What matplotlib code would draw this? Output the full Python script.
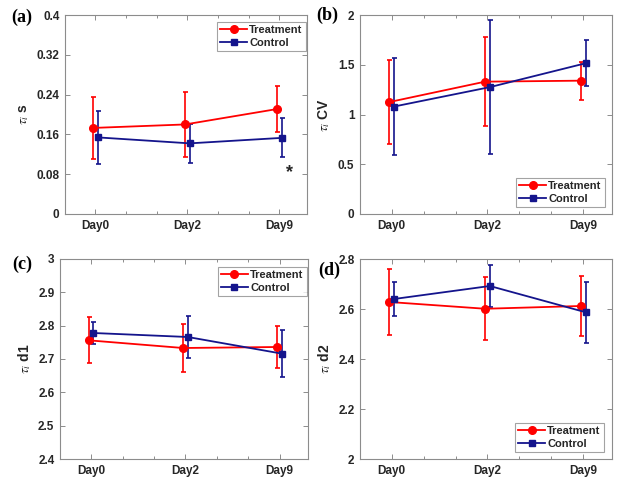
import numpy as np
import matplotlib
matplotlib.use('Agg')
import matplotlib.pyplot as plt
from matplotlib.lines import Line2D

plt.rcParams['font.family'] = ['Liberation Sans', 'DejaVu Sans']
plt.rcParams['mathtext.fontset'] = 'stix'

# Data
days = ['Day0', 'Day2', 'Day9']

tau_s_treat = [0.173, 0.180, 0.211]
tau_s_treat_err = [0.063, 0.066, 0.046]
tau_s_ctrl = [0.154, 0.142, 0.153]
tau_s_ctrl_err = [0.054, 0.039, 0.039]

cv_treat = [1.125, 1.33, 1.34]
cv_treat_err = [0.42, 0.45, 0.19]
cv_ctrl = [1.08, 1.275, 1.515]
cv_ctrl_err = [0.49, 0.67, 0.23]

d1_treat = [2.756, 2.733, 2.736]
d1_treat_err = [0.069, 0.072, 0.063]
d1_ctrl = [2.778, 2.766, 2.716]
d1_ctrl_err = [0.033, 0.064, 0.070]

d2_treat = [2.628, 2.601, 2.612]
d2_treat_err = [0.134, 0.126, 0.121]
d2_ctrl = [2.640, 2.692, 2.587]
d2_ctrl_err = [0.068, 0.086, 0.123]

red = '#ff0000'
navy = '#14148c'
axis_gray = '#8c8c8c'
text_col = '#262626'

fig = plt.figure(figsize=(6.24, 4.88), dpi=100)

W, H = 624, 488


def rect(l, r, t, b):
    return [l / W, (H - b) / H, (r - l) / W, (b - t) / H]


panels = [
    dict(pos=rect(65, 307, 15, 214), tr=tau_s_treat, tre=tau_s_treat_err, ct=tau_s_ctrl, cte=tau_s_ctrl_err,
         ylim=(0, 0.4), yticks=[0, 0.08, 0.16, 0.24, 0.32, 0.4], ylab=['0', '0.08', '0.16', '0.24', '0.32', '0.4'],
         ylabel=r'$\tau_i$ s', tag='(a)', tagxy=(22, 17), leg=('upper right', (0.995, 0.965))),
    dict(pos=rect(360, 612, 15, 214), tr=cv_treat, tre=cv_treat_err, ct=cv_ctrl, cte=cv_ctrl_err,
         ylim=(0, 2), yticks=[0, 0.5, 1, 1.5, 2], ylab=['0', '0.5', '1', '1.5', '2'],
         ylabel=r'$\tau_i$ CV', tag='(b)', tagxy=(327, 15), leg=('lower right', (0.972, 0.035))),
    dict(pos=rect(60, 308, 259, 459), tr=d1_treat, tre=d1_treat_err, ct=d1_ctrl, cte=d1_ctrl_err,
         ylim=(2.4, 3), yticks=[2.4, 2.5, 2.6, 2.7, 2.8, 2.9, 3], ylab=['2.4', '2.5', '2.6', '2.7', '2.8', '2.9', '3'],
         ylabel=r'$\tau_i$ d1', tag='(c)', tagxy=(22, 264), leg=('upper right', (0.995, 0.96))),
    dict(pos=rect(360, 612, 259, 459), tr=d2_treat, tre=d2_treat_err, ct=d2_ctrl, cte=d2_ctrl_err,
         ylim=(2, 2.8), yticks=[2, 2.2, 2.4, 2.6, 2.8], ylab=['2', '2.2', '2.4', '2.6', '2.8'],
         ylabel=r'$\tau_i$ d2', tag='(d)', tagxy=(329, 270), leg=('lower right', (0.968, 0.035))),
]

x = np.arange(1, len(days) + 1)

handles = [Line2D([], [], color=red, marker='o', ms=5.5, lw=1.3, label='Treatment'),
           Line2D([], [], color=navy, marker='s', ms=4.8, lw=1.3, label='Control')]

for p in panels:
    ax = fig.add_axes(p['pos'])
    ax.errorbar(x - 0.025, p['tr'], yerr=p['tre'], color=red, marker='o', ms=5.5, lw=1.3,
                elinewidth=1.2, capsize=1.8, capthick=1.2)
    ax.errorbar(x + 0.025, p['ct'], yerr=p['cte'], color=navy, marker='s', ms=4.8, lw=1.3,
                elinewidth=1.2, capsize=1.8, capthick=1.2)
    ax.set_xlim(0.67, 3.3)
    ax.set_ylim(*p['ylim'])
    ax.set_xticks(x)
    ax.set_xticklabels(days)
    ax.set_xticks([1.333, 1.667, 2.333, 2.667], minor=True)
    ax.set_yticks(p['yticks'])
    ax.set_yticklabels(p['ylab'])
    for lbl in ax.get_xticklabels() + ax.get_yticklabels():
        lbl.set_fontweight('bold')
        lbl.set_fontsize(8.5)
        lbl.set_color(text_col)
    ax.tick_params(which='both', direction='in', top=True, right=True, color=axis_gray, width=0.7)
    ax.tick_params(which='major', length=3.5, pad=4)
    ax.tick_params(which='minor', length=2)
    for s in ax.spines.values():
        s.set_color(axis_gray)
        s.set_linewidth(0.8)
    ax.set_ylabel(p['ylabel'], fontsize=10, fontweight='bold', color=text_col, labelpad=4)
    loc, anchor = p['leg']
    leg = ax.legend(handles=handles, loc=loc, bbox_to_anchor=anchor, borderaxespad=0, fancybox=False,
                    prop={'weight': 'bold', 'size': 8}, handlelength=2.4, handletextpad=0.2,
                    labelspacing=0.25, borderpad=0.3)
    leg.get_frame().set_edgecolor(axis_gray)
    leg.get_frame().set_linewidth(0.8)
    for t in leg.get_texts():
        t.set_color(text_col)
    fig.text(p['tagxy'][0] / W, 1 - p['tagxy'][1] / H, p['tag'], fontsize=13, fontweight='bold',
             family='Liberation Serif', ha='center', va='center')
    if p['tag'] == '(a)':
        ax.text(3.11, 0.084, '*', fontsize=13, fontweight='bold', ha='center', va='center', color=text_col)

fig.savefig('out.png', dpi=100)
